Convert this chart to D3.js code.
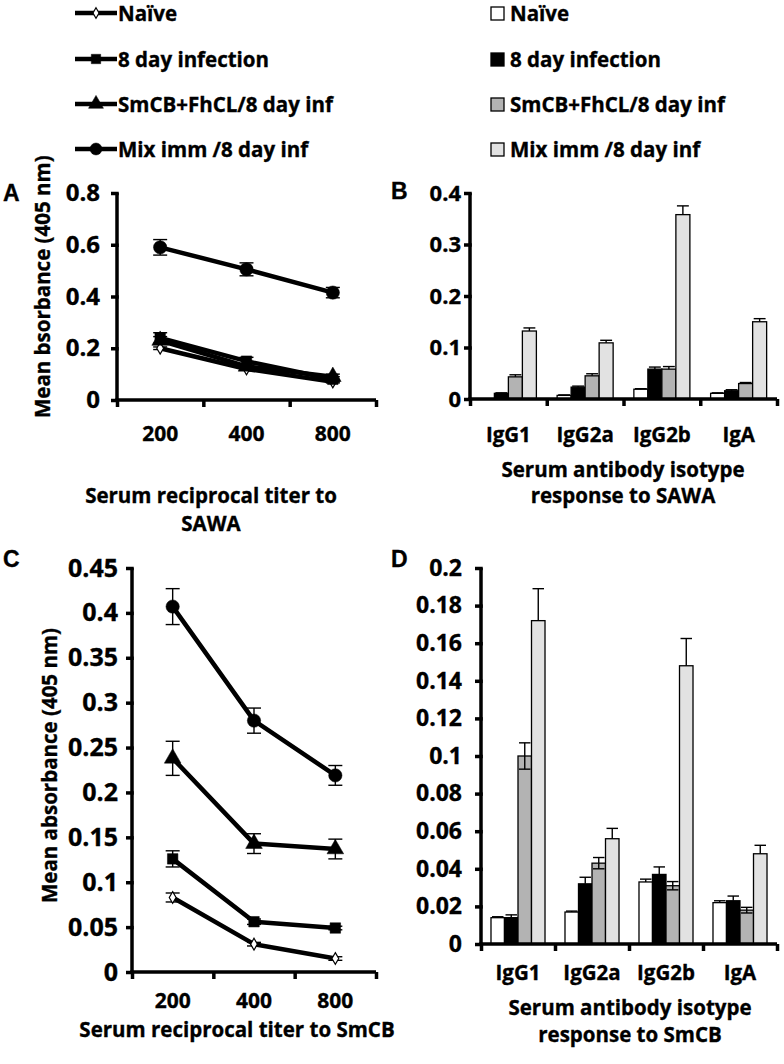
<!DOCTYPE html>
<html><head><meta charset="utf-8">
<script src="https://cdn.jsdelivr.net/npm/d3@7/dist/d3.min.js"></script>
<style>
body{margin:0;background:#fff;}
svg text{font-family:"Open Sans",Lato,sans-serif;font-weight:bold;fill:#000;stroke:#000;stroke-width:0.35px;}
</style></head>
<body><svg id="c" width="784" height="1064"></svg>
<script>
// ---------- data ----------
const seriesNames = ["Naïve", "8 day infection", "SmCB+FhCL/8 day inf", "Mix imm /8 day inf"];
const titers = ["200", "400", "800"];
const isotypes = ["IgG1", "IgG2a", "IgG2b", "IgA"];

// Panel A: serum reciprocal titer to SAWA
const aNaive = [0.20, 0.12, 0.07];
const aInf   = [0.24, 0.15, 0.08];
const aSmcb  = [0.23, 0.13, 0.09];
const aMix   = [0.59, 0.505, 0.415];
const aNaiveErr = [0.005, 0.005, 0.004];
const aInfErr   = [0.02, 0.015, 0.01];
const aSmcbErr  = [0.015, 0.01, 0.01];
const aMixErr   = [0.03, 0.025, 0.02];
const aTicks = [0, 0.2, 0.4, 0.6, 0.8];

// Panel B: isotype response to SAWA
const bNaive = [0.0, 0.007, 0.019, 0.011];
const bInf   = [0.011, 0.023, 0.058, 0.016];
const bSmcb  = [0.043, 0.045, 0.058, 0.030];
const bMix   = [0.132, 0.109, 0.358, 0.150];
const bNaiveErr = [0, 0.001, 0.001, 0.001];
const bInfErr   = [0.001, 0.002, 0.004, 0.002];
const bSmcbErr  = [0.004, 0.004, 0.005, 0.002];
const bMixErr   = [0.006, 0.005, 0.017, 0.006];
const bTicks = [0, 0.1, 0.2, 0.3, 0.4];

// Panel C: serum reciprocal titer to SmCB
const cNaive = [0.083, 0.031, 0.015];
const cInf   = [0.126, 0.056, 0.049];
const cSmcb  = [0.238, 0.143, 0.137];
const cMix   = [0.407, 0.280, 0.219];
const cNaiveErr = [0.005, 0.002, 0.002];
const cInfErr   = [0.009, 0.003, 0.002];
const cSmcbErr  = [0.019, 0.011, 0.011];
const cMixErr   = [0.020, 0.014, 0.011];
const cTicks = [0, 0.05, 0.1, 0.15, 0.2, 0.25, 0.3, 0.35, 0.4, 0.45];

// Panel D: isotype response to SmCB
const dNaive = [0.014, 0.017, 0.033, 0.022];
const dInf   = [0.014, 0.032, 0.037, 0.023];
const dSmcb  = [0.100, 0.043, 0.031, 0.018];
const dMix   = [0.172, 0.056, 0.148, 0.048];
const dNaiveErr = [0.0005, 0.0005, 0.0015, 0.001];
const dInfErr   = [0.0015, 0.0035, 0.004, 0.0025];
const dSmcbErr  = [0.007, 0.003, 0.0022, 0.0015];
const dMixErr   = [0.017, 0.0055, 0.0145, 0.0045];
const dTicks = [0, 0.02, 0.04, 0.06, 0.08, 0.1, 0.12, 0.14, 0.16, 0.18, 0.2];

// ---------- styles ----------
const barFill = ["#ffffff", "#000000", "#b3b3b3", "#e2e2e2"];
const markerType = [d3.symbolDiamond, d3.symbolSquare, d3.symbolTriangle, d3.symbolCircle];
const markerSize = [40, 110, 120, 140];
const markerFill = ["#ffffff", "#000", "#000", "#000"];

const svg = d3.select("#c");
const fmt = d => String(d);

function styleAxis(g, w) {
  g.selectAll(".domain").attr("stroke", "#000").attr("stroke-width", w);
  g.selectAll(".tick line").attr("stroke", "#000").attr("stroke-width", w);
}

function yAxis(cfg, y, ticks) {
  const g = svg.append("g").attr("transform", `translate(${cfg.x0},0)`)
    .call(d3.axisLeft(y).tickValues(ticks).tickFormat(fmt).tickSize(6).tickSizeOuter(0).tickPadding(cfg.yPad));
  styleAxis(g, 3.5);
  g.attr("font-family", null).attr("font-size", null);
  g.selectAll("text").style("font-size", cfg.yFont + "px");
  g.select(".domain").attr("d", `M0,${y.range()[0] + 1.75}V${y.range()[1]}`);
  g.selectAll(".tick line").attr("transform", "translate(1.75,0)").attr("x2", -7.75);
}

function xAxis(cfg, x, cats) {
  const n = cats.length;
  const edge = d3.scaleLinear().domain([0, n]).range([cfg.x0, cfg.x1]);
  const g = svg.append("g").attr("transform", `translate(0,${cfg.y0})`)
    .call(d3.axisBottom(edge).tickValues(d3.range(n + 1)).tickFormat("").tickSize(7).tickSizeOuter(0));
  styleAxis(g, 3.5);
  g.select(".domain").attr("d", `M${cfg.x0 - 1.75},0H${cfg.x1}`);
  const gl = svg.append("g").attr("transform", `translate(0,${cfg.y0})`)
    .call(d3.axisBottom(x).tickSize(0).tickPadding(cfg.xPad));
  gl.attr("font-family", null).attr("font-size", null);
  gl.select(".domain").remove();
  gl.selectAll("text").style("font-size", cfg.xFont + "px");
}

function errBar(g, x, yTop, yBot, cap) {
  g.append("line").attr("x1", x).attr("x2", x).attr("y1", yTop).attr("y2", yBot)
    .attr("stroke", "#000").attr("stroke-width", 1.4);
  g.append("line").attr("x1", x - cap / 2).attr("x2", x + cap / 2).attr("y1", yTop).attr("y2", yTop)
    .attr("stroke", "#000").attr("stroke-width", 1.4);
}

function linePanel(cfg, series, errs, ticks) {
  const x = d3.scaleBand().domain(titers).range([cfg.x0, cfg.x1]);
  const y = d3.scaleLinear().domain([0, ticks[ticks.length - 1]]).range([cfg.y0, cfg.yTop]);
  const g = svg.append("g");
  series.forEach((vals, si) => {
    vals.forEach((v, i) => {
      const cx = x(titers[i]) + x.bandwidth() / 2;
      const e = errs[si][i];
      const gg = g.append("g");
      errBar(gg, cx, y(v + e), y(v - e), 14);
      gg.append("line").attr("x1", cx - 7).attr("x2", cx + 7).attr("y1", y(v - e)).attr("y2", y(v - e))
        .attr("stroke", "#000").attr("stroke-width", 1.4);
    });
  });
  series.forEach((vals, si) => {
    const line = d3.line().x((d, i) => x(titers[i]) + x.bandwidth() / 2).y(d => y(d));
    g.append("path").datum(vals).attr("d", line).attr("fill", "none")
      .attr("stroke", "#000").attr("stroke-width", 4.5).attr("stroke-linejoin", "round");
    g.selectAll(null).data(vals).enter().append("path")
      .attr("transform", (d, i) => `translate(${x(titers[i]) + x.bandwidth() / 2},${y(d)})`)
      .attr("d", d3.symbol().type(markerType[si]).size(markerSize[si]))
      .attr("fill", markerFill[si]).attr("stroke", "#000").attr("stroke-width", si === 0 ? 1.2 : 0.5);
  });
  yAxis(cfg, y, ticks);
  xAxis(cfg, x, titers);
}

function barPanel(cfg, series, errs, ticks, minusSeries) {
  const x = d3.scaleBand().domain(isotypes).range([cfg.x0, cfg.x1]);
  const xs = d3.scaleBand().domain(d3.range(4)).range([0, x.bandwidth()]).paddingInner(0).paddingOuter(0.74);
  const y = d3.scaleLinear().domain([0, ticks[ticks.length - 1]]).range([cfg.y0, cfg.yTop]);
  const g = svg.append("g");
  series.forEach((vals, si) => {
    vals.forEach((v, i) => {
      const bx = x(isotypes[i]) + xs(si);
      const bw = xs.bandwidth();
      if (v > 0) {
        g.append("rect").attr("x", bx).attr("y", y(v)).attr("width", bw).attr("height", y(0) - y(v))
          .attr("fill", barFill[si]).attr("stroke", "#000").attr("stroke-width", 1.3);
      }
      const e = errs[si][i];
      if (e > 0) {
        errBar(g, bx + bw / 2, y(v + e), y(v), bw * 0.85);
        if (minusSeries.includes(si)) {
          g.append("line").attr("x1", bx + bw / 2).attr("x2", bx + bw / 2).attr("y1", y(v)).attr("y2", y(v - e))
            .attr("stroke", "#000").attr("stroke-width", 1.4);
          g.append("line").attr("x1", bx + bw * 0.075).attr("x2", bx + bw * 0.925).attr("y1", y(v - e)).attr("y2", y(v - e))
            .attr("stroke", "#000").attr("stroke-width", 1.4);
        }
      }
    });
  });
  yAxis(cfg, y, ticks);
  xAxis(cfg, x, isotypes);
}

// ---------- legends ----------
const legY = [13, 59, 104, 149];
seriesNames.forEach((name, i) => {
  svg.append("line").attr("x1", 75).attr("x2", 117).attr("y1", legY[i]).attr("y2", legY[i])
    .attr("stroke", "#000").attr("stroke-width", 4.5);
  svg.append("path").attr("transform", `translate(96,${legY[i]})`)
    .attr("d", d3.symbol().type(markerType[i]).size(markerSize[i] * 0.8))
    .attr("fill", markerFill[i]).attr("stroke", "#000").attr("stroke-width", i === 0 ? 1.2 : 0.5);
  svg.append("text").attr("x", 118).attr("y", legY[i] + 8).style("font-size", "20.5px").text(name);

  svg.append("rect").attr("x", 491).attr("y", legY[i] - 6).attr("width", 13).attr("height", 13)
    .attr("fill", barFill[i]).attr("stroke", "#000").attr("stroke-width", 1.3);
  svg.append("text").attr("x", 510).attr("y", legY[i] + 8).style("font-size", "20.5px").text(name);
});

// ---------- panels ----------
linePanel({x0: 117, x1: 376, y0: 400, yTop: 193, yPad: 11, yFont: 24, xPad: 26, xFont: 21},
  [aNaive, aInf, aSmcb, aMix], [aNaiveErr, aInfErr, aSmcbErr, aMixErr], aTicks);
barPanel({x0: 470, x1: 777, y0: 399, yTop: 193, yPad: 3, yFont: 22, xPad: 28, xFont: 20.5},
  [bNaive, bInf, bSmcb, bMix], [bNaiveErr, bInfErr, bSmcbErr, bMixErr], bTicks, []);
linePanel({x0: 132, x1: 376, y0: 972, yTop: 568, yPad: 8, yFont: 25, xPad: 21, xFont: 21},
  [cNaive, cInf, cSmcb, cMix], [cNaiveErr, cInfErr, cSmcbErr, cMixErr], cTicks);
barPanel({x0: 481, x1: 777, y0: 944, yTop: 568, yPad: 13, yFont: 23, xPad: 21, xFont: 20.5},
  [dNaive, dInf, dSmcb, dMix], [dNaiveErr, dInfErr, dSmcbErr, dMixErr], dTicks, [2]);

// ---------- titles ----------
const letters = [["A", 3, 201], ["B", 391, 199], ["C", 3, 567], ["D", 391, 567]];
letters.forEach(([t, x, y]) => svg.append("text").attr("x", x).attr("y", y)
  .style("font-family", "'Liberation Sans',Arial,sans-serif").style("font-size", "23px").text(t));

svg.append("text").attr("transform", "translate(50,418) rotate(-90)").style("font-size", "20.5px")
  .text("Mean bsorbance (405 nm)");
svg.append("text").attr("transform", "translate(57,903) rotate(-90)").style("font-size", "20.5px")
  .text("Mean absorbance (405 nm)");

const xTitles = [
  ["Serum reciprocal titer to", 211, 503], ["SAWA", 211, 531],
  ["Serum antibody isotype", 623, 477], ["response to SAWA", 623, 503],
  ["Serum reciprocal titer to SmCB", 237, 1037],
  ["Serum antibody isotype", 630, 1015], ["response to SmCB", 630, 1042]
];
xTitles.forEach(([t, x, y]) => svg.append("text").attr("x", x).attr("y", y)
  .attr("text-anchor", "middle").style("font-size", "20.5px").text(t));
</script></body></html>
